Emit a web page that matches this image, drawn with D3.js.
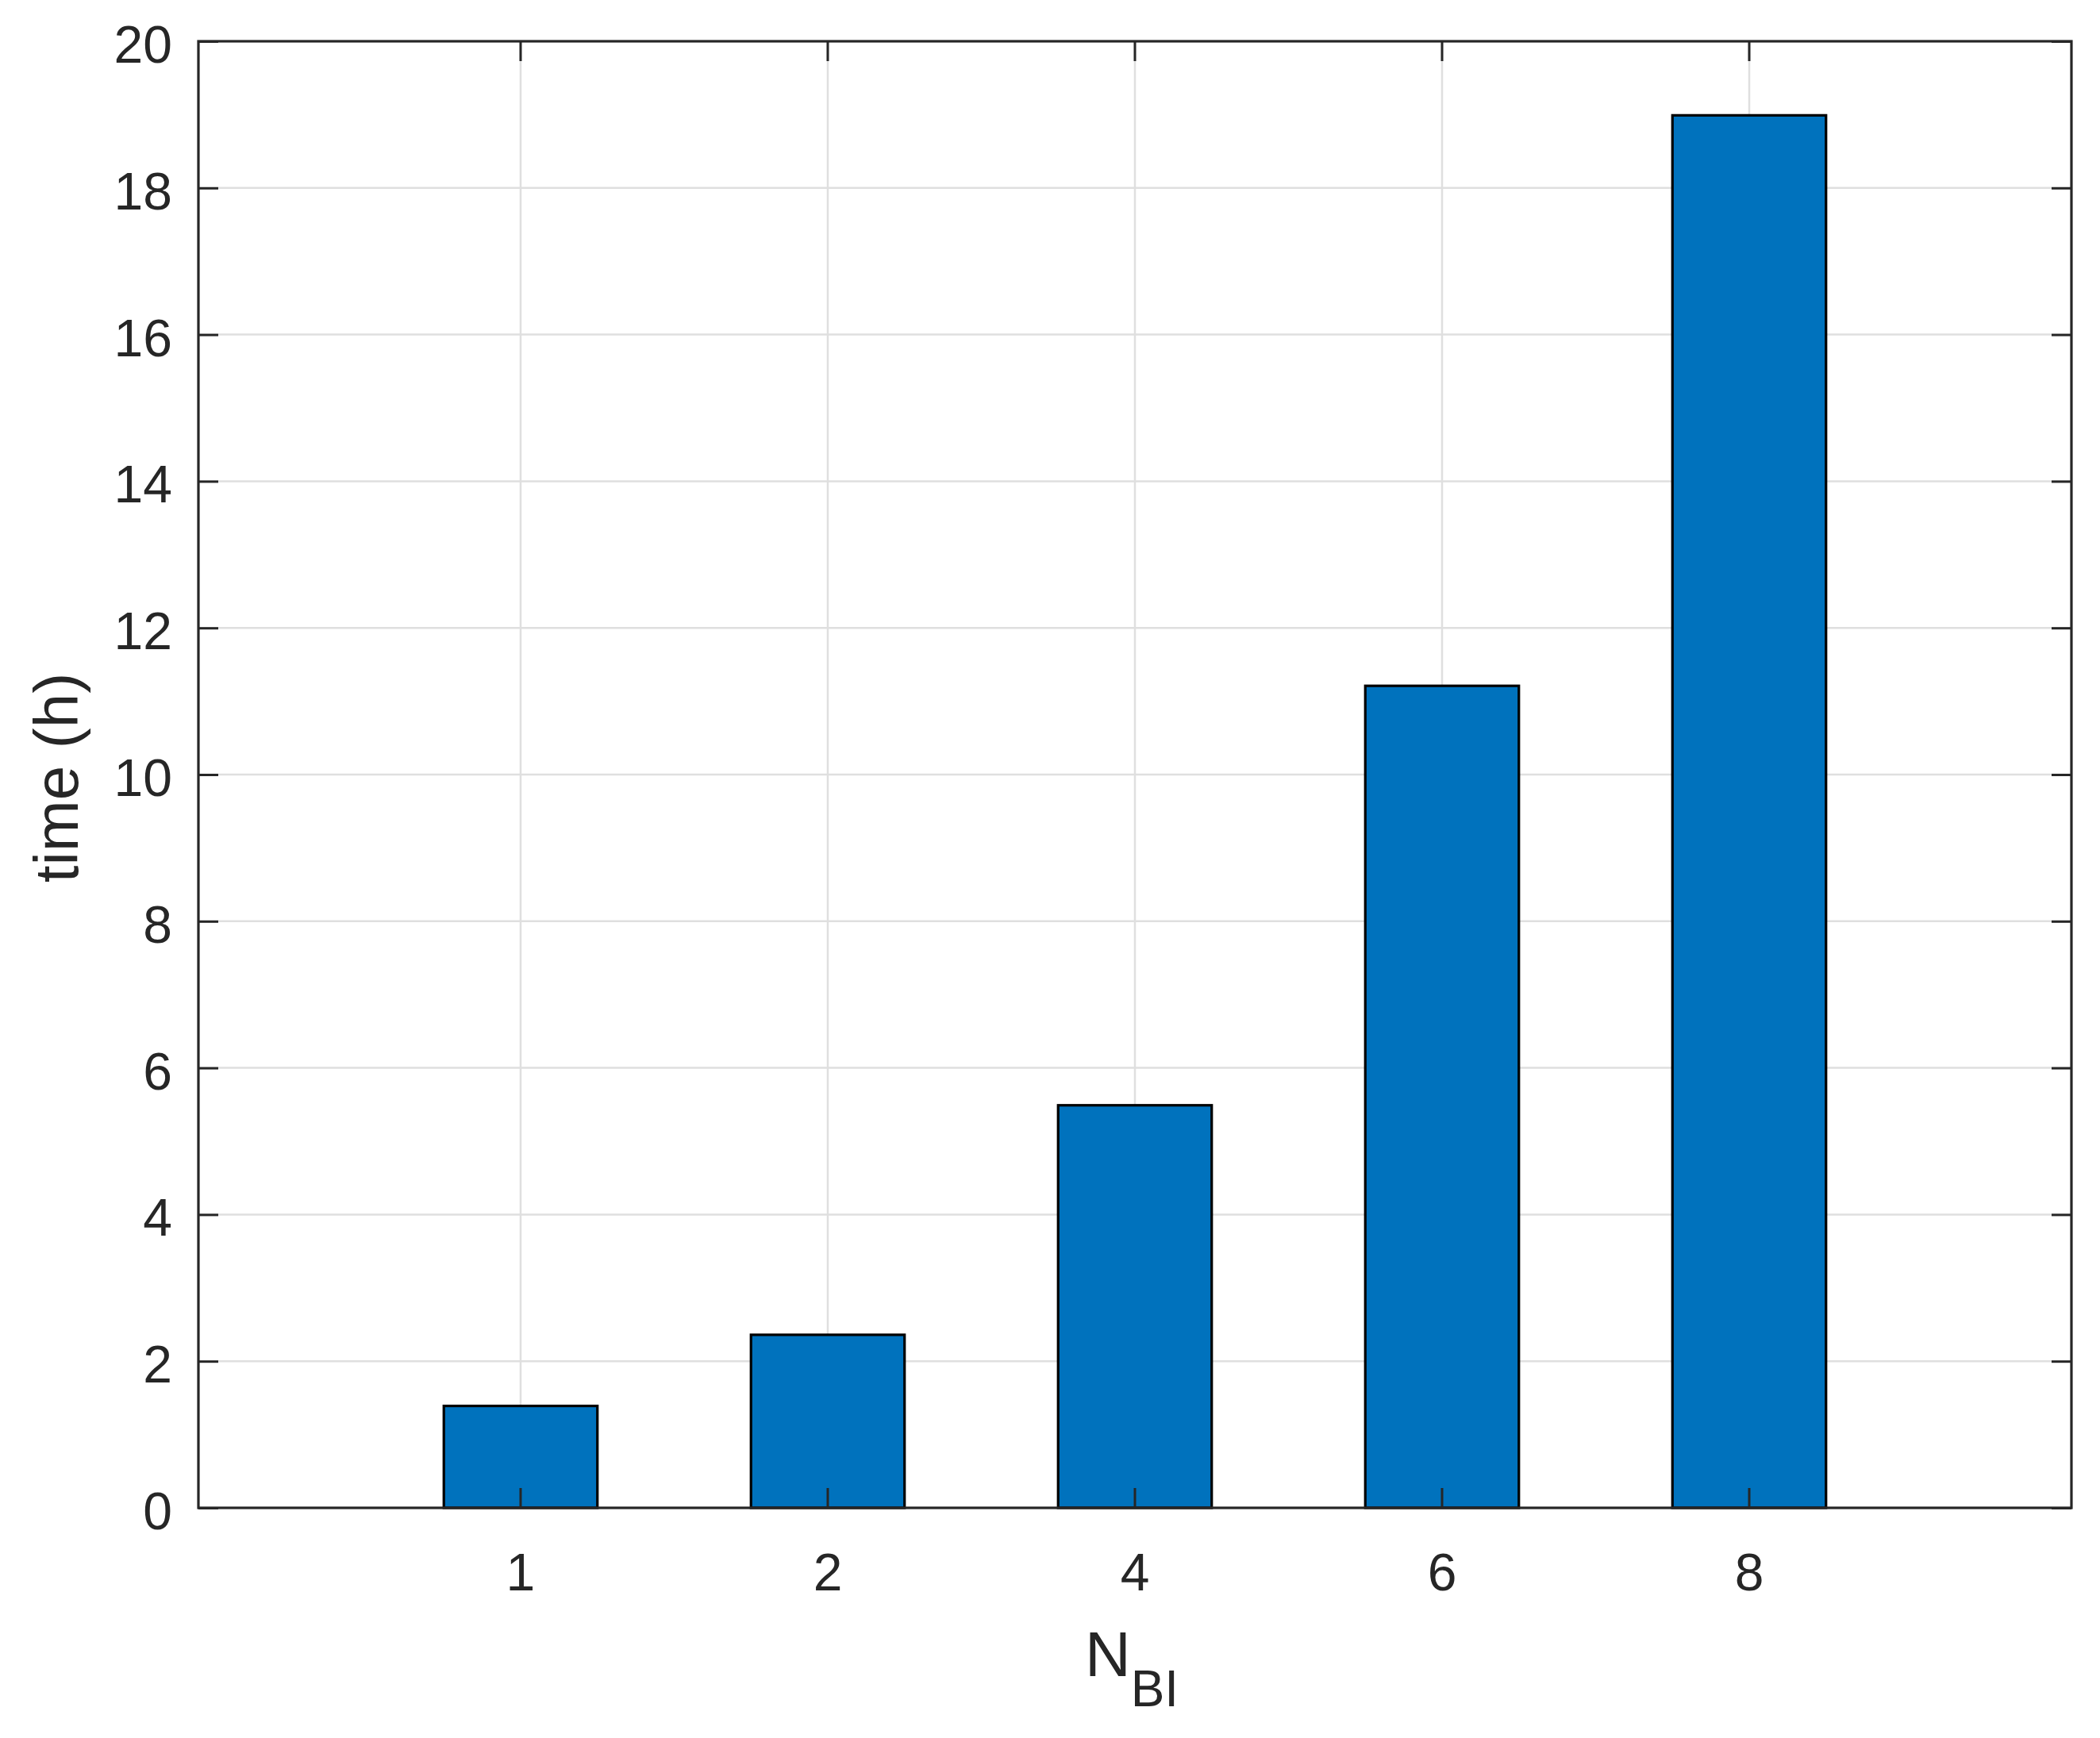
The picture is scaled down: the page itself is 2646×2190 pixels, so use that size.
<!DOCTYPE html>
<html>
<head>
<meta charset="utf-8">
<script src="https://cdn.jsdelivr.net/npm/d3@7"></script>
<style>
  html, body { margin: 0; padding: 0; background: #fff; }
  svg { display: block; }
  text { font-family: "Liberation Sans", Arial, Helvetica, sans-serif; fill: #262626; }
</style>
</head>
<body>
<svg id="chart" width="2646" height="2190"></svg>
<script>
// ---- data ----
const categories = ["1", "2", "4", "6", "8"];
const timeHours = [1.39, 2.36, 5.49, 11.21, 18.99];
const yTicks = [0, 2, 4, 6, 8, 10, 12, 14, 16, 18, 20];
const xLabelMain = "N";
const xLabelSub = "BI";
const yLabel = "time (h)";

// ---- layout ----
const W = 2646, H = 2190;
const pLeft = 250, pRight = 2610, pTop = 52, pBottom = 1900;
const axisColor = "#262626";
const gridColor = "#dfdfdf";
const barColor = "#0072BD";
const tickLen = 25;

const svg = d3.select("#chart");
svg.append("rect").attr("width", W).attr("height", H).attr("fill", "#fff");

const x = d3.scaleBand()
  .domain(categories)
  .range([pLeft, pRight])
  .paddingInner(0.5)
  .paddingOuter(0.799);
const xc = c => x(c) + x.bandwidth() / 2;

const y = d3.scaleLinear().domain([0, 20]).range([pBottom, pTop]);

// ---- grid ----
const grid = svg.append("g");
grid.selectAll("line.h").data(yTicks.filter(t => t > 0 && t < 20)).enter().append("line")
  .attr("x1", pLeft).attr("x2", pRight)
  .attr("y1", d => y(d)).attr("y2", d => y(d))
  .attr("stroke", gridColor).attr("stroke-width", 2.5);
grid.selectAll("line.v").data(categories).enter().append("line")
  .attr("x1", d => xc(d)).attr("x2", d => xc(d))
  .attr("y1", pTop).attr("y2", pBottom)
  .attr("stroke", gridColor).attr("stroke-width", 2.5);

// ---- bars ----
svg.append("g").selectAll("rect").data(categories).enter().append("rect")
  .attr("x", d => x(d))
  .attr("width", x.bandwidth())
  .attr("y", (d, i) => y(timeHours[i]))
  .attr("height", (d, i) => y(0) - y(timeHours[i]))
  .attr("fill", barColor)
  .attr("stroke", "#000")
  .attr("stroke-width", 3.2);

// ---- axes (box, inward ticks on all sides) ----
const axL = d3.axisLeft(y).tickValues(yTicks).tickSizeInner(-tickLen).tickSizeOuter(0).tickPadding(33);
const axR = d3.axisRight(y).tickValues(yTicks).tickSizeInner(-tickLen).tickSizeOuter(0).tickFormat("");
const axB = d3.axisBottom(x).tickSizeInner(-tickLen).tickSizeOuter(0).tickPadding(80);
const axT = d3.axisTop(x).tickSizeInner(-tickLen).tickSizeOuter(0).tickFormat("");

function styleAxis(g) {
  g.select(".domain").remove();
  g.selectAll(".tick line").attr("stroke", axisColor).attr("stroke-width", 3);
  g.selectAll(".tick text")
    .attr("fill", axisColor)
    .style("font-family", '"Liberation Sans", Arial, Helvetica, sans-serif')
    .style("font-size", "66px");
}

svg.append("g").attr("transform", `translate(${pLeft},0)`).call(axL).call(styleAxis)
  .selectAll(".tick text").attr("dy", "0.4em");
svg.append("g").attr("transform", `translate(${pRight},0)`).call(axR).call(styleAxis);
svg.append("g").attr("transform", `translate(0,${pBottom})`).call(axB).call(styleAxis)
  .selectAll(".tick text").attr("dy", "0.36em");
svg.append("g").attr("transform", `translate(0,${pTop})`).call(axT).call(styleAxis);

svg.append("rect")
  .attr("x", pLeft).attr("y", pTop)
  .attr("width", pRight - pLeft).attr("height", pBottom - pTop)
  .attr("fill", "none").attr("stroke", axisColor).attr("stroke-width", 3.2);

// ---- axis labels ----
const xl = svg.append("text")
  .attr("x", (pLeft + pRight) / 2 - 4)
  .attr("y", 2112)
  .attr("text-anchor", "middle")
  .style("font-size", "80px");
xl.append("tspan").text(xLabelMain);
xl.append("tspan").attr("dy", 38).style("font-size", "64px").text(xLabelSub);

svg.append("text")
  .attr("transform", `translate(98,${(pTop + pBottom) / 2 + 4}) rotate(-90)`)
  .attr("text-anchor", "middle")
  .style("font-size", "78px")
  .text(yLabel);
</script>
</body>
</html>
